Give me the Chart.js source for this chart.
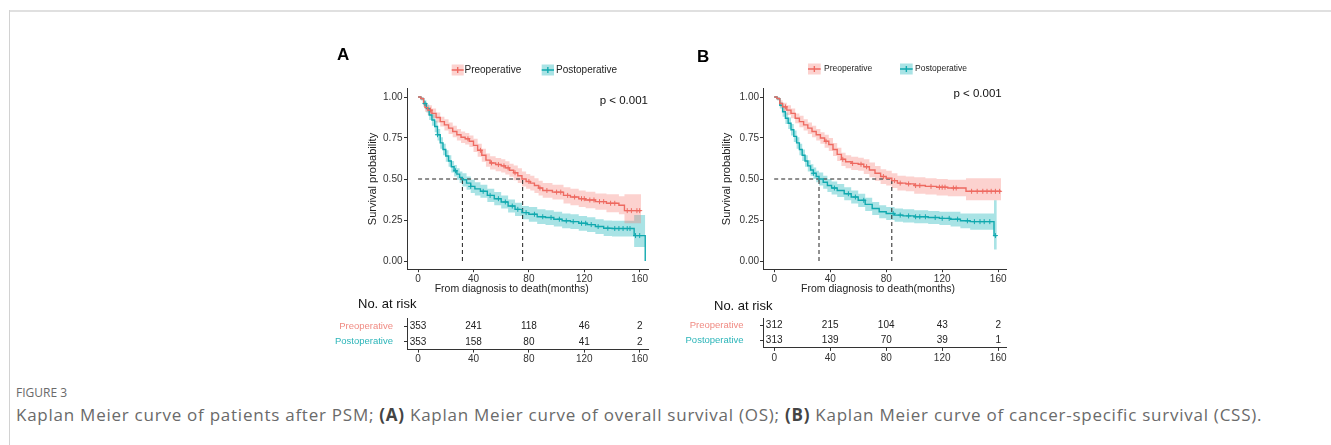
<!DOCTYPE html>
<html>
<head>
<meta charset="utf-8">
<script src="https://cdn.jsdelivr.net/npm/chart.js@4.4.0/dist/chart.umd.min.js"></script>
<style>
  body { margin: 0; background: #fff; width: 1331px; height: 445px; overflow: hidden; position: relative; }
  canvas { position: absolute; }
  .frame-top { position: absolute; left: 9px; top: 10px; width: 1322px; height: 2px; background: #e0e0e0; }
  .frame-left { position: absolute; left: 9px; top: 10px; width: 1px; height: 435px; background: #d2d2d2; }
  .fig { position: absolute; left: 16px; top: 384px; font: 12px "Open Sans", sans-serif; color: #6a6a6a; }
  .cap { position: absolute; left: 16px; top: 403px; font: 17px "Open Sans", sans-serif; letter-spacing: 0.75px; color: #6a6a6a; white-space: nowrap; }
  .cap b { color: #444; }
</style>
</head>
<body>
<div class="frame-top"></div>
<div class="frame-left"></div>
<canvas id="mainA" width="330" height="255" style="left:330px;top:40px"></canvas>
<canvas id="riskA" width="330" height="75" style="left:330px;top:295px"></canvas>
<canvas id="mainB" width="330" height="255" style="left:690px;top:40px"></canvas>
<canvas id="riskB" width="340" height="75" style="left:680px;top:295px"></canvas>
<div class="fig">FIGURE 3</div>
<div class="cap">Kaplan Meier curve of patients after PSM; <b>(A)</b> Kaplan Meier curve of overall survival (OS); <b>(B)</b> Kaplan Meier curve of cancer-specific survival (CSS).</div>

<script>
// groups
const groups = ['Preoperative', 'Postoperative'];
const xTicks = [0, 40, 80, 120, 160];
const yTicks = [0, 0.25, 0.5, 0.75, 1];
const riskTimes = [0, 40, 80, 120, 160];

// Panel A - overall survival, preoperative
const timeA1 = [0, 2, 4, 5, 7, 10, 13, 16, 19, 22, 25, 28, 31, 34, 37, 40, 43, 46, 49, 52, 56, 60, 63, 66, 69, 72, 75, 78, 81, 84, 87, 90, 97, 105, 110, 116, 121, 128, 136, 145, 149, 161];
const survA1 = [1, .99, .96, .935, .92, .90, .875, .85, .83, .81, .79, .77, .755, .745, .73, .705, .675, .645, .615, .598, .588, .58, .568, .553, .538, .52, .50, .485, .475, .46, .445, .43, .42, .40, .39, .38, .372, .362, .352, .34, .307, .307];
const upA1 = [1, 1, .98, .96, .95, .93, .905, .88, .865, .845, .825, .805, .79, .78, .765, .745, .715, .685, .655, .638, .628, .62, .608, .593, .583, .565, .545, .53, .52, .505, .49, .475, .465, .45, .44, .43, .422, .412, .407, .395, .407, .407];
const loA1 = [1, .98, .94, .91, .89, .87, .845, .82, .795, .775, .755, .735, .72, .71, .695, .665, .635, .605, .575, .558, .548, .54, .528, .513, .493, .475, .455, .44, .43, .415, .40, .385, .375, .35, .34, .33, .322, .312, .297, .285, .23, .23];
const censA1 = [9, 36, 45, 53, 58, 62, 65, 70, 80, 88, 93, 100, 103, 108, 113, 118, 120, 124, 127, 131, 134, 139, 142, 151, 154, 158, 160];

// Panel A - postoperative
const timeA2 = [0, 2, 4, 6, 8, 10, 12, 14, 16, 18, 20, 22, 24, 26, 28, 30, 32, 35, 38, 41, 45, 50, 55, 60, 65, 70, 75, 80, 86, 92, 98, 104, 110, 116, 122, 128, 134, 140, 156, 164];
const survA2 = [1, .99, .96, .93, .89, .86, .82, .77, .72, .68, .64, .61, .575, .55, .53, .51, .495, .475, .455, .44, .425, .40, .38, .36, .335, .315, .295, .285, .27, .265, .255, .245, .24, .23, .222, .21, .20, .198, .155, 0];
const upA2 = [1, 1, .98, .955, .92, .895, .855, .805, .755, .715, .675, .645, .61, .585, .565, .545, .535, .515, .495, .48, .465, .44, .42, .40, .375, .355, .335, .33, .315, .31, .30, .29, .285, .275, .267, .255, .247, .245, .28, .28];
const loA2 = [1, .98, .94, .905, .86, .825, .785, .735, .685, .645, .605, .575, .54, .515, .495, .475, .455, .435, .415, .40, .385, .36, .34, .32, .295, .275, .255, .24, .225, .22, .21, .20, .195, .185, .177, .165, .153, .15, .085, .085];
const censA2 = [5, 14, 27, 38, 47, 52, 58, 63, 68, 72, 78, 84, 90, 96, 102, 107, 112, 118, 121, 125, 130, 137, 142, 145, 148, 151, 153, 157, 160];

// Panel B - cancer-specific survival, preoperative
const timeB1 = [0, 2, 4, 6, 9, 12, 15, 18, 21, 24, 27, 30, 33, 36, 39, 42, 45, 48, 51, 55, 60, 64, 68, 72, 76, 80, 84, 88, 94, 100, 108, 116, 124, 137, 162];
const survB1 = [1, .99, .96, .94, .92, .90, .87, .85, .83, .81, .79, .77, .75, .73, .71, .68, .65, .62, .605, .595, .59, .575, .555, .535, .515, .505, .49, .475, .47, .46, .455, .45, .445, .425, .425];
const upB1 = [1, 1, .98, .965, .95, .93, .90, .885, .865, .845, .825, .805, .785, .77, .75, .72, .69, .66, .645, .635, .63, .62, .60, .58, .56, .55, .535, .52, .515, .51, .505, .50, .495, .505, .505];
const loB1 = [1, .98, .94, .915, .89, .87, .84, .815, .795, .775, .755, .735, .715, .69, .67, .64, .61, .58, .565, .555, .55, .53, .51, .49, .47, .46, .445, .43, .425, .41, .405, .40, .395, .37, .37];
const censB1 = [8, 37, 49, 56, 62, 66, 78, 86, 90, 96, 101, 104, 112, 118, 120, 122, 128, 130, 141, 145, 149, 152, 155, 158, 161];

// Panel B - postoperative
const timeB2 = [0, 2, 4, 6, 8, 10, 12, 14, 16, 18, 20, 22, 24, 26, 28, 30, 32, 35, 38, 41, 45, 50, 55, 60, 65, 70, 75, 80, 86, 92, 100, 110, 118, 126, 133, 140, 157, 159];
const survB2 = [1, .99, .95, .91, .87, .84, .80, .76, .72, .68, .645, .61, .58, .555, .535, .515, .50, .48, .46, .445, .43, .41, .39, .37, .345, .32, .30, .29, .28, .275, .27, .265, .26, .255, .245, .24, .155, .155];
const upB2 = [1, 1, .97, .94, .905, .875, .835, .795, .755, .715, .68, .645, .615, .59, .57, .55, .54, .52, .50, .485, .47, .45, .43, .41, .385, .36, .34, .33, .32, .315, .31, .305, .30, .30, .29, .29, .37, .37];
const loB2 = [1, .98, .93, .88, .835, .805, .765, .725, .685, .645, .61, .575, .545, .52, .50, .48, .46, .44, .42, .405, .39, .37, .35, .33, .305, .28, .26, .25, .24, .235, .23, .225, .22, .21, .20, .19, .07, .07];
const censB2 = [28, 43, 53, 58, 64, 85, 90, 96, 101, 104, 108, 115, 120, 125, 131, 138, 143, 147, 150, 154, 158];

// median survival times
const medianA = [32, 75.5];
const medianB = [32, 84];

// number at risk
const riskA1 = [353, 241, 118, 46, 2];
const riskA2 = [353, 158, 80, 41, 2];
const riskB1 = [312, 215, 104, 43, 2];
const riskB2 = [313, 139, 70, 39, 1];

const lineColors = ['#EE6A61', '#11A9AF'];
const bandColors = ['rgba(245,118,110,0.33)', 'rgba(16,178,184,0.36)'];
const rowColors = ['#F08B83', '#2CB5B9'];
const FONT = '"Liberation Sans", Arial, sans-serif';

Chart.defaults.font.family = FONT;
Chart.defaults.animation = false;

function pts(t, v) {
    return t.map((x, i) => ({ x: x, y: v[i] }));
}

function survAt(t, s, c) {
    let k = 0;
    for (let i = 0; i < t.length; i++) if (t[i] <= c) k = i;
    return s[k];
}

function kmDatasets(t, s, up, lo, cens, g) {
    return [
        { data: pts(t, s), borderColor: lineColors[g], borderWidth: 1.4, stepped: true, pointRadius: 0, fill: false, order: 1 },
        { data: cens.map(c => ({ x: c, y: survAt(t, s, c) })), showLine: false, pointStyle: 'cross', pointRadius: 2.5,
          borderColor: lineColors[g], borderWidth: 1, order: 0 },
        { data: pts(t, up), borderColor: 'transparent', borderWidth: 0, pointRadius: 0, stepped: true, fill: false, order: 5 },
        { data: pts(t, lo), borderColor: 'transparent', borderWidth: 0, pointRadius: 0, stepped: true, fill: '-1',
          backgroundColor: bandColors[g], order: 5 }
    ];
}

function medianDatasets(meds) {
    const sets = [{ data: [{ x: 0, y: 0.5 }, { x: Math.max(...meds), y: 0.5 }] }];
    meds.forEach(m => sets.push({ data: [{ x: m, y: 0 }, { x: m, y: 0.5 }] }));
    return sets.map(d => Object.assign(d, { borderColor: '#222', borderWidth: 1, borderDash: [4, 3], pointRadius: 0, fill: false, order: 2 }));
}

const axisGrid = { display: true, drawOnChartArea: false, drawTicks: true, tickLength: 3, color: '#333' };
const axisBorder = { display: true, color: '#333', width: 1 };

// letter, legend, p value and x title
const kmDecor = {
    id: 'kmDecor',
    afterDraw(chart, args, o) {
        const ctx = chart.ctx;
        ctx.save();
        ctx.fillStyle = '#000';
        ctx.font = 'bold 17px ' + FONT;
        ctx.textBaseline = 'alphabetic';
        ctx.textAlign = 'left';
        ctx.fillText(o.letter, o.letterX, o.letterY);

        ctx.font = o.legendSize + 'px ' + FONT;
        ctx.textBaseline = 'middle';
        o.legend.forEach((it, i) => {
            const y = o.legendY;
            ctx.fillStyle = bandColors[i];
            ctx.fillRect(it.x, y - 5.5, it.w, 11);
            ctx.strokeStyle = lineColors[i];
            ctx.lineWidth = 1.4;
            ctx.beginPath();
            ctx.moveTo(it.x, y);
            ctx.lineTo(it.x + it.w, y);
            ctx.moveTo(it.x + it.w / 2, y - 3);
            ctx.lineTo(it.x + it.w / 2, y + 3);
            ctx.stroke();
            ctx.fillStyle = '#222';
            ctx.fillText(groups[i], it.tx, y);
        });

        ctx.fillStyle = '#111';
        ctx.font = '11.5px ' + FONT;
        ctx.textAlign = 'right';
        ctx.fillText('p < 0.001', o.pX, o.pY);

        ctx.fillStyle = '#222';
        ctx.font = '10.5px ' + FONT;
        ctx.textAlign = 'center';
        ctx.fillText('From diagnosis to death(months)', o.xtX, o.xtY);
        ctx.restore();
    }
};

// numbers at risk
const riskText = {
    id: 'riskText',
    afterDraw(chart, args, o) {
        const { ctx, scales: { x, y } } = chart;
        ctx.save();
        ctx.fillStyle = '#222';
        ctx.font = '10px ' + FONT;
        ctx.textAlign = 'center';
        ctx.textBaseline = 'middle';
        o.rows.forEach((row, i) => {
            row.forEach((n, j) => ctx.fillText(n, x.getPixelForValue(riskTimes[j]), y.getPixelForValue(i)));
        });
        ctx.fillStyle = '#111';
        ctx.font = '13px ' + FONT;
        ctx.textAlign = 'left';
        ctx.fillText('No. at risk', o.nx, o.ny);
        ctx.restore();
    }
};

function mainChart(id, sets, p) {
    new Chart(document.getElementById(id), {
        type: 'line',
        data: { datasets: sets },
        options: {
            responsive: false,
            animation: false,
            events: [],
            layout: { padding: { top: 48.8, right: p.padRight, bottom: 0, left: 0 } },
            plugins: { legend: { display: false }, tooltip: { enabled: false }, kmDecor: p },
            scales: {
                x: {
                    type: 'linear', min: -8, max: 166,
                    afterBuildTicks: s => { s.ticks = xTicks.map(v => ({ value: v })); },
                    afterFit: s => { s.height = 25.8; },
                    grid: axisGrid, border: axisBorder,
                    ticks: { color: '#333', font: { size: 10, lineHeight: 1 }, padding: 2, maxRotation: 0 }
                },
                y: {
                    type: 'linear', min: -0.05, max: 1.05,
                    afterBuildTicks: s => { s.ticks = yTicks.map(v => ({ value: v })); },
                    afterFit: s => { s.width = p.yWidth; },
                    grid: axisGrid, border: axisBorder,
                    ticks: { color: '#333', font: { size: 10 }, padding: p.yPad, callback: v => v.toFixed(2) },
                    title: { display: true, text: 'Survival probability', color: '#222', font: { size: 11 },
                             padding: { top: p.titlePad, bottom: 0 } }
                }
            }
        },
        plugins: [kmDecor]
    });
}

function riskChart(id, rows, p) {
    new Chart(document.getElementById(id), {
        type: 'scatter',
        data: { datasets: [] },
        options: {
            responsive: false,
            animation: false,
            events: [],
            layout: { padding: { top: 23.2, right: p.padRight, bottom: 0, left: 0 } },
            plugins: { legend: { display: false }, tooltip: { enabled: false }, riskText: { rows: rows, nx: p.nx, ny: p.ny } },
            scales: {
                x: {
                    type: 'linear', min: -8, max: 166,
                    afterBuildTicks: s => { s.ticks = xTicks.map(v => ({ value: v })); },
                    afterFit: s => { s.height = 20.4; },
                    grid: axisGrid, border: axisBorder,
                    ticks: { color: '#333', font: { size: 10, lineHeight: 1 }, padding: 2, maxRotation: 0 }
                },
                y: {
                    type: 'category', labels: groups, offset: true,
                    afterFit: s => { s.width = p.yWidth; },
                    grid: axisGrid, border: axisBorder,
                    ticks: { color: c => rowColors[c.index], font: { size: 9.5 }, padding: p.yPad }
                }
            }
        },
        plugins: [riskText]
    });
}

mainChart('mainA',
    kmDatasets(timeA1, survA1, upA1, loA1, censA1, 0)
        .concat(kmDatasets(timeA2, survA2, upA2, loA2, censA2, 1))
        .concat(medianDatasets(medianA)),
    { letter: 'A', letterX: 7, letterY: 20, legendY: 30, legendSize: 10,
      legend: [{ x: 121.7, w: 12, tx: 134.5 }, { x: 211.7, w: 12.3, tx: 226 }],
      pX: 318, pY: 60.5, xtX: 181.7, xtY: 248.7,
      padRight: 12, yWidth: 77, yPad: 1.5, titlePad: 35.9 });

mainChart('mainB',
    kmDatasets(timeB1, survB1, upB1, loB1, censB1, 0)
        .concat(kmDatasets(timeB2, survB2, upB2, loB2, censB2, 1))
        .concat(medianDatasets(medianB)),
    { letter: 'B', letterX: 7, letterY: 22, legendY: 29, legendSize: 8.5,
      legend: [{ x: 118, w: 12.7, tx: 134 }, { x: 210, w: 12.7, tx: 225 }],
      pX: 311.7, pY: 54, xtX: 188, xtY: 248.7,
      padRight: 13.4, yWidth: 73, yPad: 1, titlePad: 30.4 });

riskChart('riskA', [riskA1, riskA2], { padRight: 12, yWidth: 77, yPad: 11, nx: 28, ny: 9 });
riskChart('riskB', [riskB1, riskB2], { padRight: 13.4, yWidth: 83, yPad: 16.4, nx: 34, ny: 11.7 });
</script>
</body>
</html>
